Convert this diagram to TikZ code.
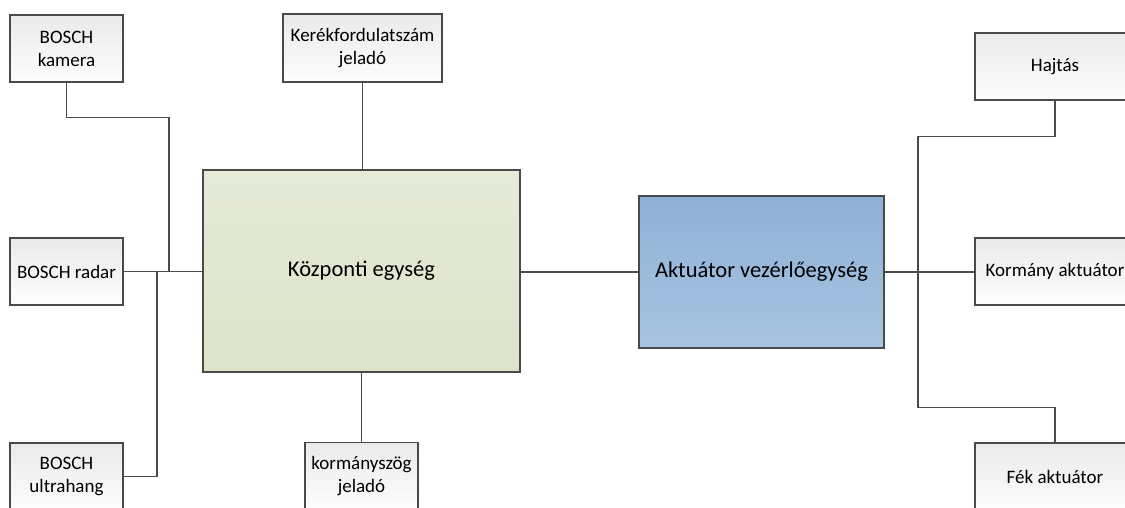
\documentclass[tikz,border=0pt]{standalone}
\usepackage{fontspec}
\setmainfont{Carlito}
\definecolor{edge}{HTML}{4A4A4A}
\definecolor{boxtop}{HTML}{EAEAEA}
\definecolor{boxbot}{HTML}{FDFDFD}
\definecolor{greentop}{HTML}{E6EAD9}
\definecolor{greenbot}{HTML}{DCE4C8}
\definecolor{bluetop}{HTML}{8EB1D6}
\definecolor{bluebot}{HTML}{A8C4E0}
\begin{document}
\begin{tikzpicture}[x=1pt,y=-1pt,
  unit/.style={draw=edge, line width=1.1pt, top color=boxtop, bottom color=boxbot,
    inner sep=0pt, align=center, font=\fontsize{19}{23}\selectfont,
    minimum width=113pt, minimum height=67pt},
  mainunit/.style={draw=edge, line width=1.1pt, inner sep=0pt,
    font=\fontsize{22.5}{27}\selectfont},
  link/.style={draw=edge, line width=1.1pt}]
\useasboundingbox (0,0) rectangle (1125,507);
\clip (0,0) rectangle (1125,507);
\fill[white] (0,0) rectangle (1125,507);

% central units
\node[mainunit, top color=greentop, bottom color=greenbot,
  minimum width=317pt, minimum height=202pt] (kozp) at (361.5,271) {Központi egység};
\node[mainunit, top color=bluetop, bottom color=bluebot,
  minimum width=245pt, minimum height=152pt] (akt) at (761.5,272) {Aktuátor vezérlőegység};

% sensors
\node[unit] (kamera) at (66.5,48.5) {BOSCH\\kamera};
\node[unit] (radar) at (66.5,271.5) {BOSCH radar};
\node[unit] (ultra) at (66.5,476.5) {BOSCH\\ultrahang};
\node[unit, minimum width=159pt, minimum height=68pt] (kerek) at (362.5,48) {Kerékfordulatszám\\jeladó};
\node[unit] (szog) at (361.5,476) {kormányszög\\jeladó};

% actuators
\node[unit, minimum width=160pt] (hajtas) at (1055,66.5) {Hajtás};
\node[unit, minimum width=160pt] (kormany) at (1055,271.5) {Kormány aktuátor};
\node[unit, minimum width=160pt] (fek) at (1055,476.5) {Fék aktuátor};

% junction points on the bus lines
\coordinate (jk) at (169,271.5);
\coordinate (ju) at (157,271.5);
\coordinate (jr) at (918,272);

% sensor wiring
\draw[link] (radar.east) -- (kozp.west |- radar.east);
\draw[link] (kamera.south) -- ++(0,35) -| (jk);
\draw[link] (ultra.east) -| (ju);
\draw[link] (kerek.south) -- (kerek.south |- kozp.north);
\draw[link] (szog.north) -- (szog.north |- kozp.south);

% actuator wiring
\draw[link] (kozp.east |- akt.west) -- (akt.west);
\draw[link] (akt.east) -- (kormany.west |- akt.east);
\draw[link] (hajtas.south) -- ++(0,36) -| (jr);
\draw[link] (fek.north) -- ++(0,-35) -| (jr);
\end{tikzpicture}
\end{document}
